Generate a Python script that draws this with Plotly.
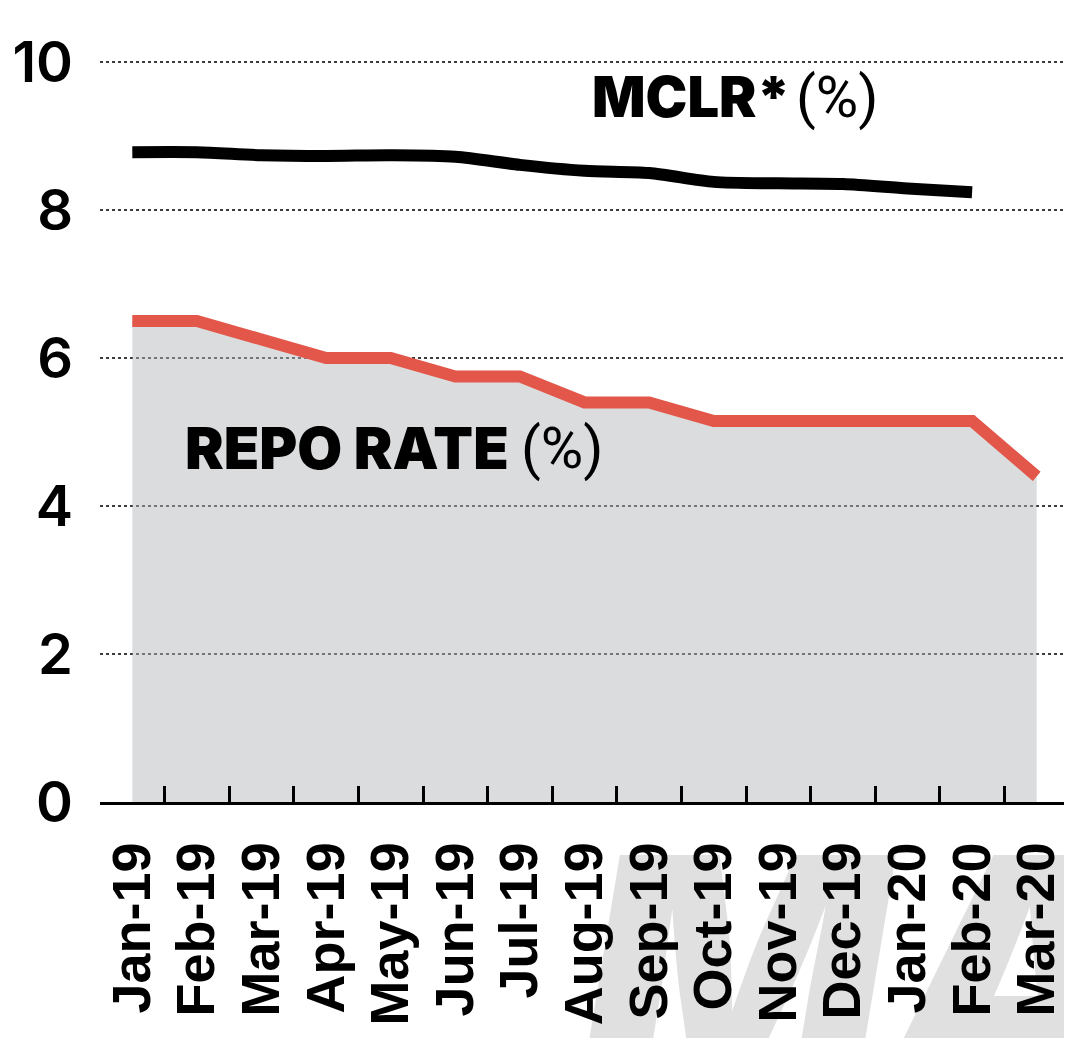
import plotly.graph_objects as go

# Monthly data, Jan-19 to Mar-20
months = ["Jan-19", "Feb-19", "Mar-19", "Apr-19", "May-19", "Jun-19", "Jul-19",
          "Aug-19", "Sep-19", "Oct-19", "Nov-19", "Dec-19", "Jan-20", "Feb-20", "Mar-20"]
repo_rate = [6.5, 6.5, 6.25, 6.0, 6.0, 5.75, 5.75, 5.4, 5.4, 5.15, 5.15, 5.15, 5.15, 5.15, 4.4]
mclr = [8.78, 8.78, 8.74, 8.73, 8.74, 8.72, 8.61, 8.53, 8.50, 8.38, 8.36, 8.35, 8.29, 8.24, None]
y_ticks = [0, 2, 4, 6, 8, 10]

RED = "#e2574a"

fig = go.Figure()

# Repo rate with grey area underneath
fig.add_trace(go.Scatter(
    x=months, y=repo_rate, mode="lines",
    line=dict(color=RED, width=12),
    fill="tozeroy", fillcolor="rgba(178,181,187,0.48)",
    hoverinfo="x+y", name="Repo rate",
))

# MCLR line
fig.add_trace(go.Scatter(
    x=months, y=mclr, mode="lines",
    line=dict(color="black", width=12, shape="spline", smoothing=0.8),
    hoverinfo="x+y", name="MCLR",
))

# Series labels
label_font = dict(family="Inter, Roboto, sans-serif", size=56, color="black", weight=900)
paren_font = dict(family="Roboto, sans-serif", size=58, color="black", weight=400)
fig.add_annotation(x=0.506, y=9.53, xref="paper", yref="y", text="MCLR*",
                   showarrow=False, xanchor="left", yanchor="middle", font=label_font)
fig.add_annotation(x=0.716, y=9.53, xref="paper", yref="y", text="(%)",
                   showarrow=False, xanchor="left", yanchor="middle", font=paren_font)
fig.add_annotation(x=0.086, y=4.78, xref="paper", yref="y", text="REPO RATE",
                   showarrow=False, xanchor="left", yanchor="middle",
                   font=dict(label_font, size=58))
fig.add_annotation(x=0.432, y=4.78, xref="paper", yref="y", text="(%)",
                   showarrow=False, xanchor="left", yanchor="middle", font=paren_font)

# Faint watermark behind the month labels
fig.add_shape(
    type="rect", xref="paper", yref="paper",
    x0=0.49, x1=1.4, y0=-0.8, y1=0.05,
    line=dict(width=0), fillcolor="rgba(0,0,0,0)", layer="below",
    label=dict(text="MA", textposition="top left",
               font=dict(family="Inter, Roboto, sans-serif", size=320,
                         color="#e0e0e0", weight=900, style="italic")),
)

fig.update_xaxes(
    type="category", range=[-0.5, 14.5],
    tickmode="array", tickvals=months, ticktext=months,
    showline=True, linecolor="black", linewidth=2.5,
    ticks="inside", ticklen=16, tickwidth=2.5, tickcolor="black",
    tickson="boundaries", tickangle=-90, ticklabelstandoff=16,
    tickfont=dict(family="Liberation Sans, Arial, sans-serif", size=54,
                  color="black", weight="bold"),
    showgrid=False, zeroline=False, fixedrange=True, automargin=False,
)
fig.update_yaxes(
    range=[0, 10.054], tickvals=y_ticks, showline=False, ticks="",
    showgrid=True, gridcolor="#3a3a3a", gridwidth=2, griddash="dot",
    zeroline=False, ticklabelstandoff=26,
    tickfont=dict(family="Inter, Roboto, sans-serif", size=56,
                  color="black", weight=600),
    fixedrange=True, automargin=False,
)

# page body adds an 8px offset, so the figure is 8px smaller
fig.update_layout(
    width=1064, height=1030,
    margin=dict(l=92, r=3, t=50, b=236),
    plot_bgcolor="white", paper_bgcolor="white",
    showlegend=False,
)

fig.write_html("out.html")
